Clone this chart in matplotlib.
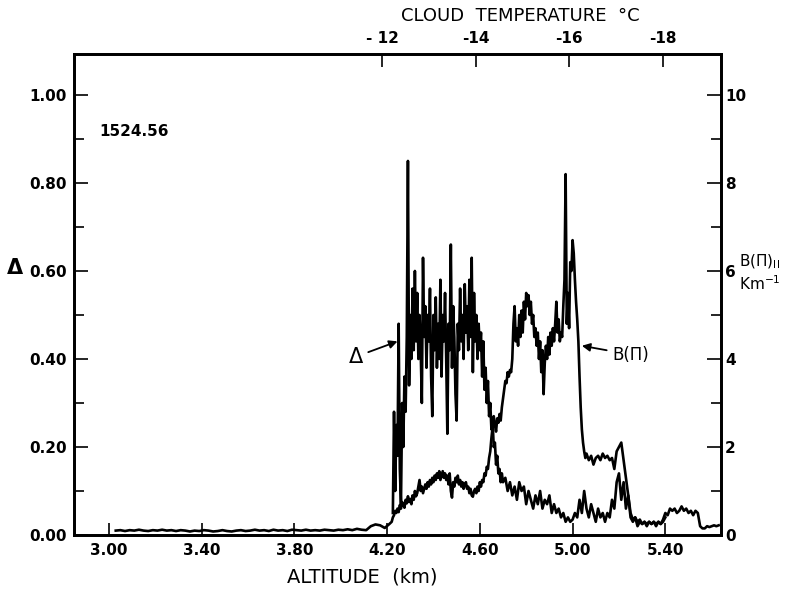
import numpy as np
import matplotlib
matplotlib.use("Agg")
import matplotlib.pyplot as plt
from matplotlib.ticker import MultipleLocator

# ---------------- data ----------------
# Delta, dense spiky part: altitude 4.225 .. 4.700 km, sampled every 0.005 km
delta_start_1, delta_step_1 = 4.225, 0.005
delta_vals_1 = [0.05, 0.28, 0.10, 0.25, 0.18, 0.48, 0.15, 0.07, 0.30, 0.20,
                0.36, 0.28, 0.45, 0.85, 0.34, 0.50, 0.40, 0.56, 0.42, 0.60,
                0.44, 0.55, 0.40, 0.50, 0.42, 0.30, 0.63, 0.45, 0.52, 0.38,
                0.50, 0.44, 0.56, 0.36, 0.27, 0.50, 0.42, 0.54, 0.38, 0.48,
                0.40, 0.58, 0.36, 0.50, 0.44, 0.55, 0.40, 0.23, 0.48, 0.42,
                0.66, 0.38, 0.52, 0.45, 0.32, 0.26, 0.48, 0.42, 0.56, 0.44,
                0.50, 0.40, 0.57, 0.46, 0.52, 0.42, 0.58, 0.45, 0.63, 0.37,
                0.55, 0.44, 0.50, 0.40, 0.48, 0.42, 0.46, 0.36, 0.44, 0.33,
                0.38, 0.30, 0.35, 0.27, 0.30, 0.24, 0.26, 0.20, 0.21, 0.16,
                0.18, 0.14, 0.15, 0.12, 0.14, 0.12]
# Delta, tail: altitude 4.71 .. 5.40 km, every 0.01 km
delta_start_2, delta_step_2 = 4.71, 0.01
delta_vals_2 = [0.13, 0.10, 0.12, 0.09, 0.11, 0.08, 0.12, 0.10, 0.11, 0.07,
                0.10, 0.08, 0.06, 0.09, 0.07, 0.10, 0.06, 0.08, 0.07, 0.09,
                0.05, 0.07, 0.05, 0.06, 0.04, 0.05, 0.03, 0.04, 0.03, 0.035,
                0.05, 0.04, 0.08, 0.05, 0.10, 0.06, 0.04, 0.07, 0.05, 0.03,
                0.06, 0.04, 0.05, 0.03, 0.05, 0.04, 0.08, 0.06, 0.12, 0.14,
                0.08, 0.12, 0.06, 0.09, 0.04, 0.03, 0.04, 0.02, 0.03, 0.025,
                0.03, 0.02, 0.03, 0.025, 0.03, 0.02, 0.03, 0.025, 0.03, 0.04]

# B(pi) in km^-1: baseline 3.03 .. 4.21 km every 0.02 km
b_start_1, b_step_1 = 3.03, 0.02
b_vals_1 = [0.10, 0.11, 0.09, 0.11, 0.10, 0.12, 0.10, 0.09, 0.11, 0.10,
            0.12, 0.10, 0.11, 0.09, 0.11, 0.10, 0.08, 0.10, 0.09, 0.11,
            0.10, 0.08, 0.09, 0.11, 0.09, 0.08, 0.10, 0.11, 0.09, 0.10,
            0.12, 0.10, 0.11, 0.09, 0.12, 0.10, 0.11, 0.09, 0.12, 0.11,
            0.10, 0.12, 0.10, 0.11, 0.10, 0.12, 0.11, 0.10, 0.12, 0.11,
            0.13, 0.11, 0.14, 0.12, 0.11, 0.20, 0.24, 0.22, 0.16, 0.25]
# B(pi): 4.220 .. 4.700 km every 0.005 km
b_start_2, b_step_2 = 4.22, 0.005
b_vals_2 = [0.30, 0.40, 0.45, 0.55, 0.50, 0.60, 0.52, 0.68, 0.60, 0.75,
            0.70, 0.62, 0.80, 0.72, 0.88, 0.75, 0.82, 0.70, 0.90, 0.80,
            1.00, 0.88, 0.95, 1.10, 1.25, 1.00, 1.10, 0.95, 1.05, 1.15,
            1.05, 1.20, 1.10, 1.25, 1.15, 1.30, 1.20, 1.35, 1.25, 1.40,
            1.30, 1.45, 1.25, 1.35, 1.45, 1.30, 1.40, 1.25, 1.35, 1.15,
            1.40, 1.00, 0.85, 1.20, 1.10, 1.30, 1.20, 1.35, 1.15, 1.25,
            1.10, 1.20, 1.05, 1.15, 1.20, 1.05, 1.10, 0.95, 1.05, 0.90,
            0.87, 1.00, 1.05, 0.95, 1.10, 1.00, 1.20, 1.10, 1.25, 1.20,
            1.40, 1.35, 1.55, 1.50, 1.75, 1.90, 2.20, 2.45, 2.70, 2.50,
            2.35, 2.65, 2.55, 2.75, 2.60, 2.90, 3.10]
# B(pi): 4.705 .. 5.060 km every 0.005 km
b_start_3, b_step_3 = 4.705, 0.005
b_vals_3 = [3.30, 3.50, 3.45, 3.70, 3.60, 3.75, 3.70, 4.00, 4.80, 5.20,
            4.40, 4.70, 4.30, 5.00, 4.50, 5.10, 4.60, 5.30, 4.90, 5.50,
            5.20, 5.45, 5.00, 5.30, 4.80, 5.00, 4.50, 4.70, 4.30, 4.60,
            4.00, 4.40, 3.70, 4.20, 3.20, 3.90, 4.30, 4.00, 4.50, 4.10,
            4.60, 4.30, 4.70, 4.40, 4.80, 5.30, 4.60, 4.90, 4.40, 4.60,
            4.50, 5.20, 5.80, 8.20, 4.80, 5.50, 4.70, 6.20, 6.00, 6.70,
            6.40, 5.80, 5.30, 4.90, 4.40, 3.60, 2.90, 2.40, 2.10, 1.90,
            1.75, 1.85]
# B(pi): 5.07 .. 5.63 km every 0.01 km
b_start_4, b_step_4 = 5.07, 0.01
b_vals_4 = [1.70, 1.80, 1.60, 1.75, 1.80, 1.70, 1.85, 1.75, 1.80, 1.70,
            1.75, 1.50, 1.90, 2.00, 2.10, 1.70, 1.30, 0.90, 0.50, 0.35,
            0.40, 0.30, 0.35, 0.25, 0.30, 0.25, 0.30, 0.25, 0.30, 0.25,
            0.30, 0.25, 0.35, 0.50, 0.45, 0.60, 0.55, 0.60, 0.50, 0.55,
            0.65, 0.55, 0.60, 0.50, 0.55, 0.45, 0.55, 0.50, 0.20, 0.15,
            0.15, 0.20, 0.18, 0.20, 0.22, 0.20, 0.22]

x_ticks = [3.00, 3.40, 3.80, 4.20, 4.60, 5.00, 5.40]
x_ticklabels = ["3.00", "3.40", "3.80", "4.20", "4.60", "5.00", "5.40"]
delta_ticks = [0.0, 0.2, 0.4, 0.6, 0.8, 1.0]
delta_ticklabels = ["0.00", "0.20", "0.40", "0.60", "0.80", "1.00"]
b_ticks = [0, 2, 4, 6, 8, 10]
b_ticklabels = ["0", "2", "4", "6", "8", "10"]
temp_ticklabels = ["- 12", "-14", "-16", "-18"]
temp_tick_alt = [4.18, 4.585, 4.985, 5.39]   # altitude of each cloud temperature


def seg(start, step, vals):
    return start + step * np.arange(len(vals)), np.array(vals)


dx1, dy1 = seg(delta_start_1, delta_step_1, delta_vals_1)
dx2, dy2 = seg(delta_start_2, delta_step_2, delta_vals_2)
delta_alt = np.concatenate([dx1, dx2])
delta = np.concatenate([dy1, dy2])

parts = [seg(b_start_1, b_step_1, b_vals_1), seg(b_start_2, b_step_2, b_vals_2),
         seg(b_start_3, b_step_3, b_vals_3), seg(b_start_4, b_step_4, b_vals_4)]
b_alt = np.concatenate([p[0] for p in parts])
b_pi = np.concatenate([p[1] for p in parts])

# ---------------- figure ----------------
plt.rcParams['font.family'] = ['DejaVu Sans']
fig = plt.figure(figsize=(7.85, 5.90), dpi=100)
ax = fig.add_axes([74 / 785, 55 / 590, (721 - 74) / 785, (535 - 54) / 590])

XMIN, XMAX = 2.85, 5.64
YTOP = 1.093

ax.plot(delta_alt, delta, color='black', lw=1.9)
ax.set_xlim(XMIN, XMAX)
ax.set_ylim(0, YTOP)

ax2 = ax.twinx()
ax2.plot(b_alt, b_pi, color='black', lw=1.9)
ax2.set_ylim(0, YTOP * 10)

ax3 = ax.twiny()
ax3.set_xlim(XMIN, XMAX)

tick_font = dict(fontsize=11, fontweight='bold')

ax.set_xticks(x_ticks)
ax.set_xticklabels(x_ticklabels, **tick_font)
ax.set_yticks(delta_ticks)
ax.set_yticklabels(delta_ticklabels, **tick_font)
ax.yaxis.set_minor_locator(MultipleLocator(0.1))
ax.tick_params(axis='x', direction='in', length=9, width=1.2, pad=6)
ax.tick_params(axis='y', which='major', direction='in', length=10, width=1.2, pad=5)
ax.tick_params(axis='y', which='minor', direction='in', length=7, width=1.2)

ax2.set_yticks(b_ticks)
ax2.set_yticklabels(b_ticklabels, **tick_font)
ax2.yaxis.set_minor_locator(MultipleLocator(1))
ax2.tick_params(axis='y', which='major', direction='in', length=10, width=1.2, pad=3)
ax2.tick_params(axis='y', which='minor', direction='in', length=7, width=1.2)

ax3.set_xticks(temp_tick_alt)
ax3.set_xticklabels(temp_ticklabels, **tick_font)
ax3.tick_params(axis='x', direction='in', length=9, width=1.2, pad=6)

for a in (ax, ax2, ax3):
    for s in a.spines.values():
        s.set_linewidth(1.8)

# labels
fig.text(15 / 785, 1 - 268 / 590, 'Δ', fontsize=15, fontweight='bold',
         ha='center', va='center')
fig.text(362 / 785, 1 - 577 / 590, 'ALTITUDE  (km)', fontsize=14,
         ha='center', va='center')
fig.text(520 / 785, 1 - 16 / 590, 'CLOUD  TEMPERATURE  °C', fontsize=13,
         ha='center', va='center')
fig.text(760 / 785, 1 - 262 / 590, r'B(Π)$_{\mathrm{II}}$', fontsize=11,
         ha='center', va='center')
fig.text(760 / 785, 1 - 284 / 590, r'Km$^{-1}$', fontsize=11,
         ha='center', va='center')

ax.text(2.96, 0.918, '1524.56', fontsize=11, fontweight='bold',
        ha='left', va='center')

arrow = dict(arrowstyle='-|>', color='black', lw=1.3, mutation_scale=12,
             shrinkA=2, shrinkB=0)
ax.annotate('Δ', xy=(4.245, 0.44), xytext=(4.065, 0.405), fontsize=15,
            ha='center', va='center', arrowprops=arrow)
ax.annotate('B(Π)', xy=(5.04, 0.43), xytext=(5.25, 0.41), fontsize=12,
            ha='center', va='center', arrowprops=arrow)

fig.savefig('out.png', dpi=100)
